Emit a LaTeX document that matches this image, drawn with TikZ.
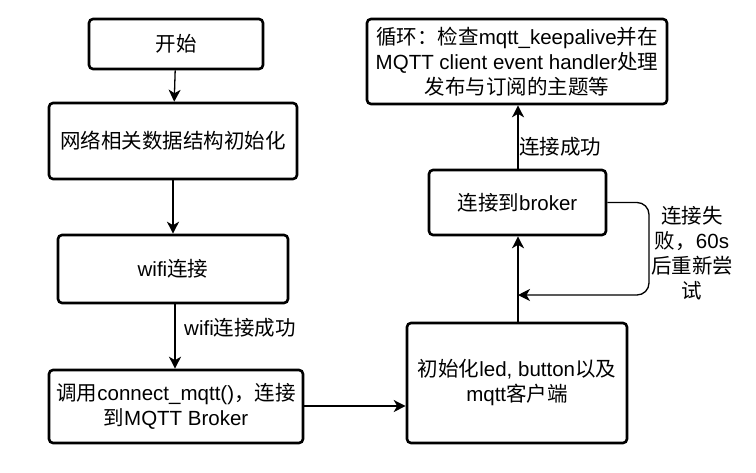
\documentclass[tikz,border=0pt]{standalone}
\usepackage{fontspec}
\setmainfont{Liberation Sans}
\newfontfamily\cjk{Noto Sans CJK SC}
\newcommand\zh[1]{{\cjk #1}}
\usetikzlibrary{arrows.meta}
\begin{document}
\begin{tikzpicture}[x=1pt,y=-1pt,
  box/.style={draw,line width=2.6pt,rounded corners=4pt,inner sep=0pt,align=center,font=\fontsize{20.5}{25}\selectfont},
  conn/.style={line width=1.3pt,-{Stealth[length=12pt,width=12pt,inset=3.5pt]}},
  lbl/.style={font=\fontsize{20.5}{25}\selectfont,inner sep=0pt,align=center}]
\useasboundingbox (0,0) rectangle (756,472);
\fill[white] (0,0) rectangle (756,472);
\node[box,minimum width=174pt,minimum height=50pt] (start) at (176,44) {\zh{开始}};
\node[box,minimum width=248pt,minimum height=76pt] (init) at (173,141) {\zh{网络相关数据结构初始化}};
\node[box,minimum width=230pt,minimum height=68pt] (wifi) at (173,269) {wifi\zh{连接}};
\node[box,minimum width=254pt,minimum height=73pt] (call) at (176,406.5) {\zh{调用}connect\_mqtt()\zh{，连接}\\\zh{到}MQTT Broker};
\node[box,minimum width=220pt,minimum height=120pt] (setup) at (517,383) {\zh{初始化}led, button\zh{以及}\\mqtt\zh{客户端}};
\node[box,minimum width=177pt,minimum height=65pt] (broker) at (517.5,202.5) {\zh{连接到}broker};
\node[box,minimum width=300pt,minimum height=85pt] (loop) at (517,61.5) {\zh{循环：检查}mqtt\_keepalive\zh{并在}\\MQTT client event handler\zh{处理}\\\zh{发布与订阅的主题等}};
\draw[conn] (start) -- (init);
\draw[conn] (init) -- (wifi);
\draw[conn] (wifi.south -| 175,0) -- (call.north -| 175,0);
\node[lbl,anchor=west] (lwifi) at (184,328) {wifi\zh{连接成功}};
\draw[conn] (call.east |- 0,406) -- (setup.west |- 0,406);
\draw[conn] (setup.north -| 518,0) -- (broker.south -| 518,0);
\draw[conn] (broker.north -| 518,0) -- (loop.south -| 518,0);
\node[lbl,anchor=west] (lok) at (519,147) {\zh{连接成功}};
\coordinate (ret) at (518,295);
\draw[conn,rounded corners=12pt] (broker.east) -- (649,202.5) -- (649,295) -- (ret);
\node[lbl] (lfail) at (692,253) {\zh{连接失}\\\zh{败，}60s\\\zh{后重新尝}\\\zh{试}};
\end{tikzpicture}
\end{document}
